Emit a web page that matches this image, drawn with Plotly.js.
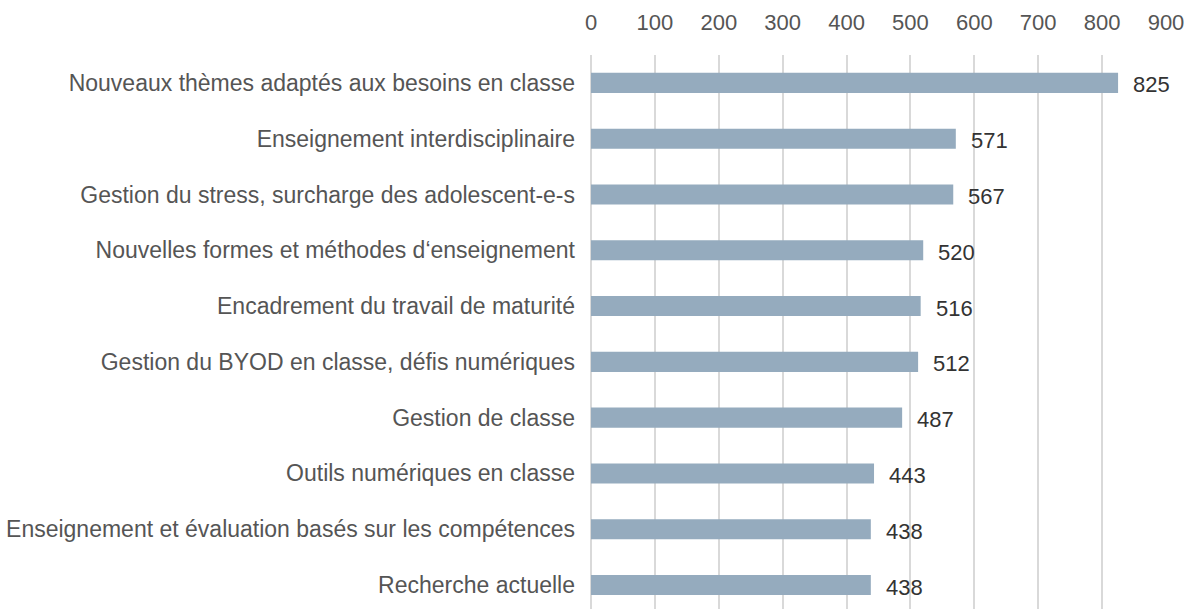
<!DOCTYPE html>
<html>
<head>
<meta charset="utf-8">
<script src="https://cdn.plot.ly/plotly-3.0.1.min.js"></script>
<style>html,body{margin:0;padding:0;background:#fff;}#chart{width:1188px;height:609px;}</style>
</head>
<body>
<div id="chart"></div>
<script>
const categories = [
  "Nouveaux thèmes adaptés aux besoins en classe",
  "Enseignement interdisciplinaire",
  "Gestion du stress, surcharge des adolescent-e-s",
  "Nouvelles formes et méthodes d‘enseignement",
  "Encadrement du travail de maturité",
  "Gestion du BYOD en classe, défis numériques",
  "Gestion de classe",
  "Outils numériques en classe",
  "Enseignement et évaluation basés sur les compétences",
  "Recherche actuelle"
];
const values = [825, 571, 567, 520, 516, 512, 487, 443, 438, 438];
const xTicks = [0, 100, 200, 300, 400, 500, 600, 700, 800, 900];

const FONT = '"Liberation Sans", Arial, Helvetica, sans-serif';

const trace = {
  type: 'bar',
  orientation: 'h',
  x: values,
  y: categories,
  marker: {color: '#95abbe'},
  hoverinfo: 'none'
};

const annotations = values.map((v, i) => ({
  x: v, y: categories[i], xref: 'x', yref: 'y',
  text: String(v), showarrow: false, xanchor: 'left', yanchor: 'middle',
  xshift: 13, yshift: -2,
  font: {family: FONT, size: 22, color: '#333333'}
}));

const layout = {
  width: 1188, height: 609,
  margin: {l: 591, r: 22, t: 55, b: 0, pad: 0},
  paper_bgcolor: '#ffffff', plot_bgcolor: '#ffffff',
  bargap: 0.64,
  showlegend: false,
  font: {family: FONT, size: 22, color: '#555555'},
  xaxis: {
    side: 'top', range: [0, 900], tickvals: xTicks, ticktext: xTicks.map(String),
    showgrid: true, gridcolor: '#d9d9d9', gridwidth: 2,
    zeroline: true, zerolinecolor: '#d9d9d9', zerolinewidth: 2,
    showline: false, ticks: '', ticklabelstandoff: 20,
    tickfont: {family: FONT, size: 22, color: '#555555'},
    fixedrange: true
  },
  yaxis: {
    type: 'category', range: [9.43, -0.5],
    showgrid: false, zeroline: false, showline: false, ticks: '',
    ticklabelstandoff: 15,
    tickfont: {family: FONT, size: 23, color: '#555555'},
    fixedrange: true
  },
  annotations: annotations
};

Plotly.newPlot('chart', [trace], layout, {displayModeBar: false, staticPlot: true});
</script>
</body>
</html>
